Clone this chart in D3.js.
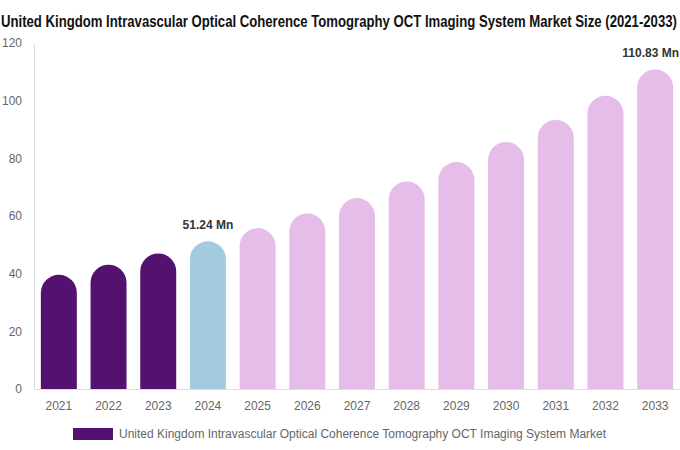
<!DOCTYPE html>
<meta charset="utf-8">
<style>
    body { margin: 0; background: #fff; }
    .tick text { font-family: "Liberation Sans", Arial, sans-serif; font-size: 12px; fill: #666; }
</style>
<body>
<svg id="chart" width="680" height="450"></svg>
<script src="https://d3js.org/d3.v7.min.js"></script>
<script>
// chart data
var years = ["2021", "2022", "2023", "2024", "2025", "2026", "2027", "2028", "2029", "2030", "2031", "2032", "2033"];
var values = [39.6, 43.1, 47.0, 51.24, 55.8, 60.9, 66.2, 72.0, 78.7, 85.7, 93.3, 101.7, 110.83];
var yTicks = [0, 20, 40, 60, 80, 100, 120];
var labelled = {"2024": "51.24 Mn", "2033": "110.83 Mn"};
var titleText = "United Kingdom Intravascular Optical Coherence Tomography OCT Imaging System Market Size (2021-2033)";
var legendText = "United Kingdom Intravascular Optical Coherence Tomography OCT Imaging System Market";

var margin = {top: 43, right: 0, bottom: 61, left: 34},
    width = 680 - margin.left - margin.right,
    height = 450 - margin.top - margin.bottom;

var svg = d3.select("#chart");

// title, squeezed horizontally so it looks like a narrow bold face
var title = svg.append("text")
    .attr("x", 0)
    .attr("y", 0)
    .style("font-family", "'Liberation Sans Narrow', 'Liberation Sans', Arial, sans-serif")
    .style("font-weight", "bold")
    .style("font-size", "16px")
    .style("fill", "#111")
    .text(titleText);
var tw = title.node().getComputedTextLength();
title.attr("transform", "translate(1,27) scale(" + (677 / tw) + ",1)");

var g = svg.append("g")
    .attr("transform", "translate(" + margin.left + "," + margin.top + ")");

var x = d3.scaleBand()
    .domain(years)
    .range([0, width])
    .paddingInner(0.276)
    .paddingOuter(0.138);

var y = d3.scaleLinear()
    .domain([0, 120])
    .range([height, 0]);

// y axis
var yAxis = g.append("g")
    .call(d3.axisLeft(y).tickValues(yTicks).tickSize(0).tickPadding(12));
yAxis.select(".domain").attr("stroke", "#ddd");

// x axis
var xAxis = g.append("g")
    .attr("transform", "translate(0," + height + ")")
    .call(d3.axisBottom(x).tickSize(0).tickPadding(12));
xAxis.select(".domain").attr("stroke", "#ddd");

function colorFor(yr) {
    if (+yr < 2024) return "#541270";
    if (+yr === 2024) return "#a3cbe0";
    return "#e6bce8";
}

// bar with rounded top
function barPath(d, i) {
    var w = x.bandwidth(), r = w / 2;
    var x0 = x(years[i]), y0 = y(d), yb = y(0);
    var top = Math.min(y0 + r, yb);
    return "M" + x0 + "," + yb +
        "L" + x0 + "," + top +
        "A" + r + "," + r + " 0 0 1 " + (x0 + w) + "," + top +
        "L" + (x0 + w) + "," + yb + "Z";
}

g.selectAll(".bar")
    .data(values)
    .enter().append("path")
    .attr("class", "bar")
    .attr("d", barPath)
    .attr("fill", function (d, i) { return colorFor(years[i]); });

// value labels (kept inside the page at the right edge)
g.selectAll(".vlabel")
    .data(years.filter(function (yr) { return labelled[yr]; }))
    .enter().append("text")
    .attr("class", "vlabel")
    .attr("y", function (yr) { return y(values[years.indexOf(yr)]) - 12; })
    .attr("text-anchor", "middle")
    .style("font-family", "'Liberation Sans', Arial, sans-serif")
    .style("font-weight", "bold")
    .style("font-size", "12px")
    .style("fill", "#333")
    .text(function (yr) { return labelled[yr]; })
    .attr("x", function (yr) {
        var cx = x(yr) + x.bandwidth() / 2;
        var half = this.getComputedTextLength() / 2;
        return Math.min(cx, width - half - 1);
    });

// legend
var legend = svg.append("g").attr("transform", "translate(73,428)");
legend.append("rect")
    .attr("width", 40)
    .attr("height", 12)
    .attr("fill", "#541270");
legend.append("text")
    .attr("x", 46)
    .attr("y", 10)
    .style("font-family", "'Liberation Sans', Arial, sans-serif")
    .style("font-size", "12px")
    .style("fill", "#666")
    .text(legendText);
</script>
</body>
